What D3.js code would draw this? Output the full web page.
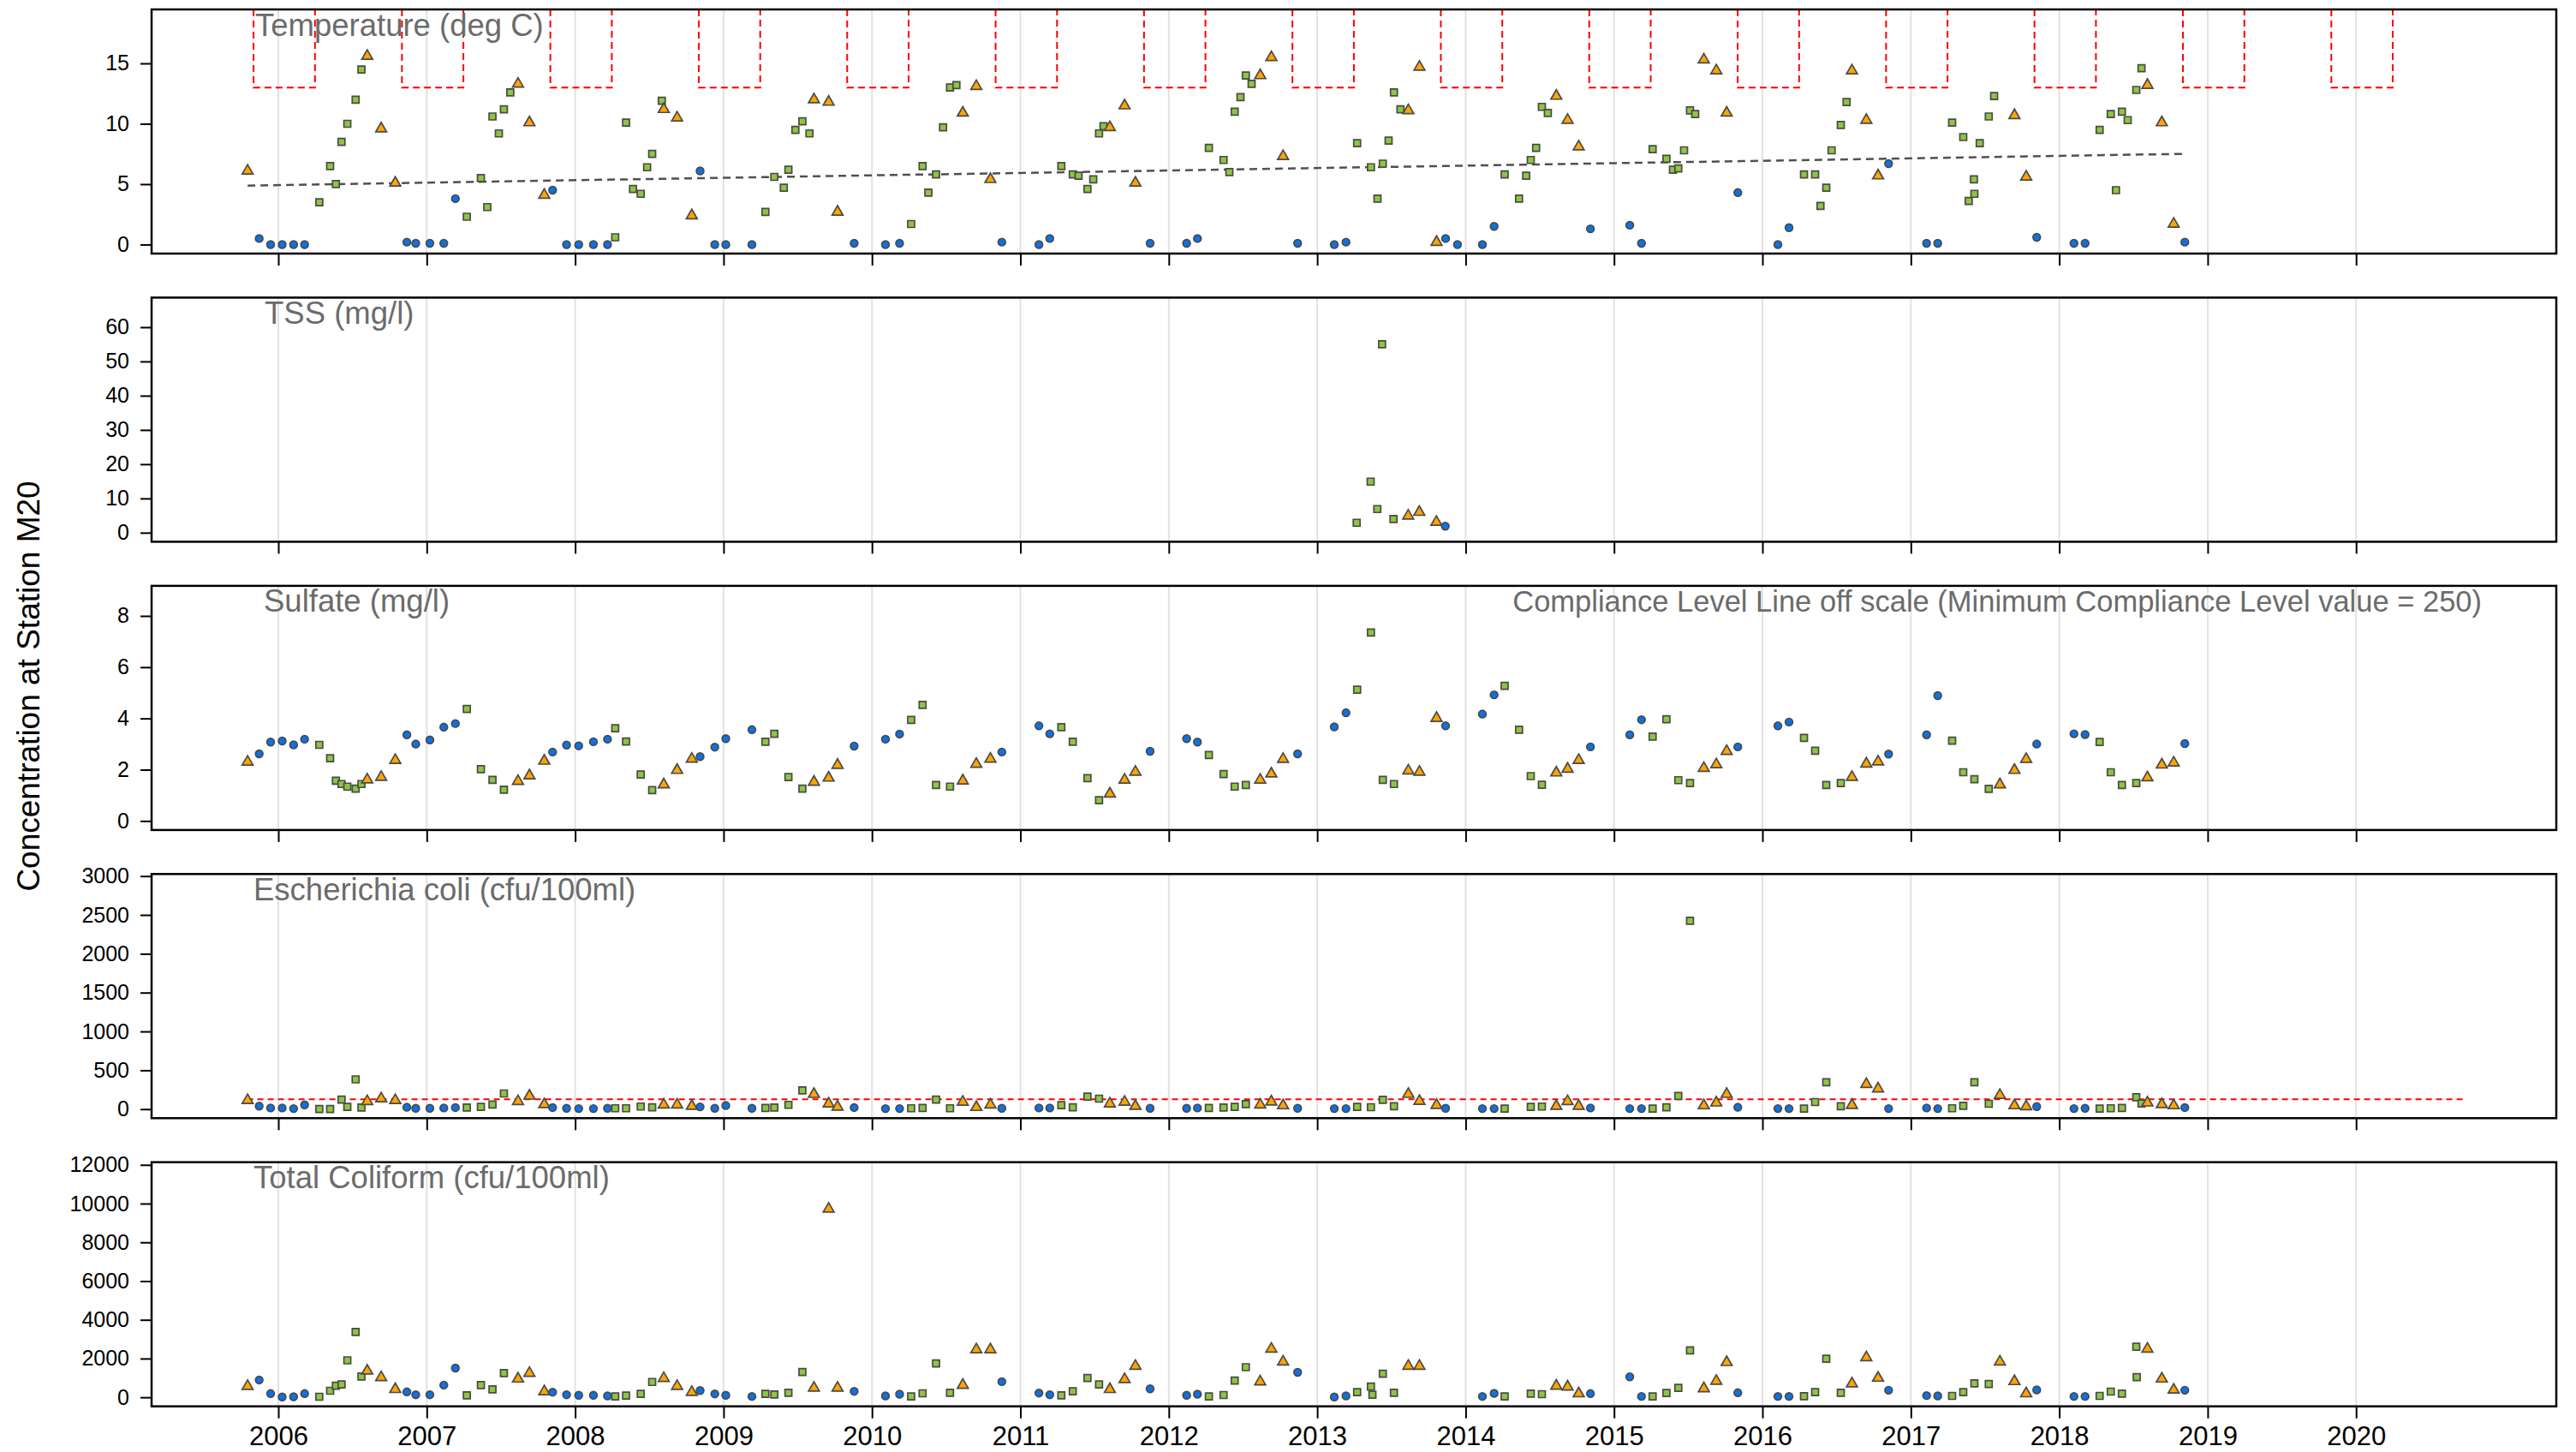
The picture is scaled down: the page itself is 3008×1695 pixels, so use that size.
<!DOCTYPE html>
<html><head><meta charset="utf-8">
<script src="https://cdn.jsdelivr.net/npm/d3@7"></script>
<style>
body{margin:0;background:#fff;}
svg{display:block;}
text{font-family:"Liberation Sans",Arial,Helvetica,sans-serif;}
</style>
</head><body>
<svg id="chart" width="3008" height="1695"></svg>
<script>
// ---------------- DATA ----------------
// season codes: W = Nov-Mar (circle), S = Apr-Jul (square), F = Aug-Oct (triangle)
const years = [2006,2007,2008,2009,2010,2011,2012,2013,2014,2015,2016,2017,2018,2019,2020];
const yearLabels = ["2006","2007","2008","2009","2010","2011","2012","2013","2014","2015","2016","2017","2018","2019","2020"];

const tempTicks = [0,5,10,15];
const tssTicks = [0,10,20,30,40,50,60];
const sulfateTicks = [0,2,4,6,8];
const ecoliTicks = [0,500,1000,1500,2000,2500,3000];
const tcTicks = [0,2000,4000,6000,8000,10000,12000];

const tempData = [
[2005.793,6.1,"F"],[2005.871,0.5,"W"],[2005.948,0,"W"],[2006.026,0,"W"],[2006.103,0,"W"],[2006.177,0,"W"],
[2006.276,3.5,"S"],[2006.349,6.5,"S"],[2006.388,5.0,"S"],[2006.426,8.5,"S"],[2006.465,10.0,"S"],[2006.521,12.0,"S"],[2006.560,14.5,"S"],
[2006.599,15.6,"F"],[2006.693,9.6,"F"],[2006.788,5.1,"F"],
[2006.866,0.2,"W"],[2006.926,0.1,"W"],[2007.021,0.1,"W"],[2007.115,0.1,"W"],[2007.193,3.8,"W"],
[2007.270,2.3,"S"],[2007.365,5.5,"S"],[2007.408,3.1,"S"],[2007.443,10.6,"S"],[2007.486,9.2,"S"],[2007.520,11.2,"S"],[2007.563,12.6,"S"],
[2007.615,13.3,"F"],[2007.692,10.1,"F"],[2007.792,4.1,"F"],
[2007.848,4.5,"W"],[2007.942,0,"W"],[2008.024,0,"W"],[2008.123,0,"W"],[2008.218,0,"W"],
[2008.270,0.6,"S"],[2008.343,10.1,"S"],[2008.390,4.6,"S"],[2008.442,4.2,"S"],[2008.485,6.4,"S"],[2008.519,7.5,"S"],[2008.584,11.9,"S"],
[2008.597,11.2,"F"],[2008.687,10.5,"F"],[2008.786,2.4,"F"],
[2008.842,6.1,"W"],[2008.941,0,"W"],[2009.015,0,"W"],[2009.191,0,"W"],
[2009.282,2.7,"S"],[2009.342,5.6,"S"],[2009.406,4.7,"S"],[2009.437,6.2,"S"],[2009.484,9.5,"S"],[2009.531,10.2,"S"],[2009.579,9.2,"S"],
[2009.609,12.0,"F"],[2009.708,11.8,"F"],[2009.768,2.7,"F"],
[2009.880,0.1,"W"],[2010.091,0,"W"],[2010.186,0.1,"W"],
[2010.264,1.7,"S"],[2010.341,6.5,"S"],[2010.380,4.3,"S"],[2010.432,5.8,"S"],[2010.479,9.7,"S"],[2010.526,13.0,"S"],[2010.569,13.2,"S"],
[2010.612,10.9,"F"],[2010.703,13.1,"F"],[2010.798,5.4,"F"],
[2010.875,0.2,"W"],[2011.125,0,"W"],[2011.198,0.5,"W"],
[2011.276,6.5,"S"],[2011.353,5.8,"S"],[2011.392,5.7,"S"],[2011.452,4.6,"S"],[2011.491,5.4,"S"],[2011.530,9.2,"S"],[2011.560,9.8,"S"],
[2011.603,9.7,"F"],[2011.702,11.5,"F"],[2011.775,5.1,"F"],
[2011.874,0.1,"W"],[2012.120,0.1,"W"],[2012.193,0.5,"W"],
[2012.270,8.0,"S"],[2012.369,7.0,"S"],[2012.408,6.0,"S"],[2012.444,11.0,"S"],[2012.483,12.2,"S"],[2012.519,14.0,"S"],[2012.558,13.3,"S"],
[2012.616,14.0,"F"],[2012.691,15.5,"F"],[2012.770,7.3,"F"],
[2012.868,0.1,"W"],[2013.115,0,"W"],[2013.194,0.2,"W"],
[2013.269,8.4,"S"],[2013.362,6.4,"S"],[2013.406,3.8,"S"],[2013.442,6.7,"S"],[2013.481,8.6,"S"],[2013.517,12.6,"S"],[2013.561,11.2,"S"],
[2013.614,11.1,"F"],[2013.689,14.7,"F"],[2013.804,0.2,"F"],
[2013.865,0.5,"W"],[2013.945,0,"W"],[2014.113,0,"W"],[2014.192,1.5,"W"],
[2014.263,5.8,"S"],[2014.360,3.8,"S"],[2014.408,5.7,"S"],[2014.439,7.0,"S"],[2014.475,8.0,"S"],[2014.514,11.4,"S"],[2014.554,10.9,"S"],
[2014.611,12.3,"F"],[2014.687,10.3,"F"],[2014.762,8.1,"F"],
[2014.841,1.3,"W"],[2015.106,1.6,"W"],[2015.185,0.1,"W"],
[2015.260,7.9,"S"],[2015.353,7.1,"S"],[2015.397,6.2,"S"],[2015.433,6.3,"S"],[2015.472,7.8,"S"],[2015.512,11.1,"S"],[2015.547,10.8,"S"],
[2015.605,15.3,"F"],[2015.689,14.4,"F"],[2015.759,10.9,"F"],
[2015.834,4.3,"W"],[2016.104,0,"W"],[2016.179,1.4,"W"],
[2016.280,5.8,"S"],[2016.355,5.8,"S"],[2016.391,3.2,"S"],[2016.430,4.7,"S"],[2016.466,7.8,"S"],[2016.528,9.9,"S"],[2016.567,11.8,"S"],
[2016.603,14.4,"F"],[2016.700,10.3,"F"],[2016.779,5.7,"F"],
[2016.850,6.7,"W"],[2017.106,0.1,"W"],[2017.181,0.1,"W"],
[2017.278,10.1,"S"],[2017.353,8.9,"S"],[2017.390,3.6,"S"],[2017.428,4.2,"S"],[2017.425,5.4,"S"],[2017.464,8.4,"S"],[2017.525,10.6,"S"],[2017.561,12.3,"S"],
[2017.698,10.7,"F"],[2017.777,5.6,"F"],
[2017.848,0.6,"W"],[2018.099,0.1,"W"],[2018.174,0.1,"W"],
[2018.272,9.5,"S"],[2018.347,10.8,"S"],[2018.382,4.5,"S"],[2018.422,11.0,"S"],[2018.461,10.3,"S"],[2018.519,12.8,"S"],[2018.554,14.6,"S"],
[2018.594,13.2,"F"],[2018.691,10.1,"F"],[2018.771,1.7,"F"],
[2018.846,0.2,"W"]
];
// temperature trend (start, end)
const tempTrend = [[2005.793,4.88],[2018.846,7.51]];
// temperature compliance level and its winter windows (Nov 1 - Mar 31)
const tempLimit = 13;
const tempLimitWindows = [
[2005.833,2006.247],[2006.833,2007.247],[2007.833,2008.247],[2008.833,2009.247],[2009.833,2010.247],
[2010.833,2011.247],[2011.833,2012.247],[2012.833,2013.247],[2013.833,2014.247],[2014.833,2015.247],
[2015.833,2016.247],[2016.833,2017.247],[2017.833,2018.247],[2018.833,2019.247],[2019.833,2020.247]
];

const tssData = [
[2013.266,2.9,"S"],[2013.360,14.9,"S"],[2013.405,6.9,"S"],[2013.437,55.0,"S"],[2013.514,4.0,"S"],
[2013.613,4.9,"F"],[2013.688,6.0,"F"],[2013.803,3.1,"F"],[2013.863,1.9,"W"]
];

const sulfateData = [
[2005.793,2.3,"F"],[2005.871,2.62,"W"],[2005.948,3.08,"W"],[2006.026,3.12,"W"],[2006.103,2.97,"W"],[2006.177,3.19,"W"],
[2006.276,2.97,"S"],[2006.349,2.45,"S"],[2006.388,1.57,"S"],[2006.426,1.44,"S"],[2006.465,1.34,"S"],[2006.521,1.26,"S"],[2006.560,1.44,"S"],
[2006.599,1.61,"F"],[2006.693,1.71,"F"],[2006.788,2.37,"F"],
[2006.866,3.36,"W"],[2006.926,3.0,"W"],[2007.021,3.16,"W"],[2007.115,3.66,"W"],[2007.193,3.80,"W"],
[2007.270,4.37,"S"],[2007.365,2.02,"S"],[2007.443,1.60,"S"],[2007.520,1.22,"S"],
[2007.615,1.55,"F"],[2007.692,1.77,"F"],[2007.792,2.34,"F"],
[2007.848,2.69,"W"],[2007.942,2.96,"W"],[2008.024,2.93,"W"],[2008.123,3.09,"W"],[2008.218,3.19,"W"],
[2008.270,3.62,"S"],[2008.343,3.10,"S"],[2008.442,1.81,"S"],[2008.519,1.20,"S"],
[2008.597,1.42,"F"],[2008.687,1.98,"F"],[2008.786,2.42,"F"],
[2008.842,2.51,"W"],[2008.941,2.88,"W"],[2009.015,3.21,"W"],[2009.191,3.56,"W"],
[2009.282,3.09,"S"],[2009.342,3.40,"S"],[2009.437,1.71,"S"],[2009.531,1.26,"S"],
[2009.609,1.52,"F"],[2009.708,1.68,"F"],[2009.768,2.18,"F"],
[2009.880,2.92,"W"],[2010.091,3.19,"W"],[2010.186,3.39,"W"],
[2010.264,3.94,"S"],[2010.341,4.53,"S"],[2010.432,1.40,"S"],[2010.526,1.34,"S"],
[2010.612,1.57,"F"],[2010.703,2.22,"F"],[2010.798,2.42,"F"],
[2010.875,2.69,"W"],[2011.125,3.71,"W"],[2011.198,3.40,"W"],
[2011.276,3.66,"S"],[2011.353,3.09,"S"],[2011.452,1.67,"S"],[2011.530,0.81,"S"],
[2011.603,1.06,"F"],[2011.702,1.60,"F"],[2011.775,1.91,"F"],
[2011.874,2.72,"W"],[2012.120,3.21,"W"],[2012.193,3.08,"W"],
[2012.270,2.57,"S"],[2012.369,1.83,"S"],[2012.444,1.34,"S"],[2012.519,1.40,"S"],
[2012.616,1.60,"F"],[2012.691,1.84,"F"],[2012.770,2.41,"F"],
[2012.868,2.62,"W"],[2013.115,3.67,"W"],[2013.194,4.22,"W"],
[2013.269,5.12,"S"],[2013.362,7.35,"S"],[2013.442,1.60,"S"],[2013.517,1.44,"S"],
[2013.614,1.96,"F"],[2013.689,1.91,"F"],[2013.804,4.01,"F"],
[2013.865,3.71,"W"],[2014.113,4.17,"W"],[2014.192,4.92,"W"],
[2014.263,5.27,"S"],[2014.360,3.56,"S"],[2014.439,1.75,"S"],[2014.514,1.41,"S"],
[2014.611,1.88,"F"],[2014.687,2.03,"F"],[2014.762,2.37,"F"],
[2014.841,2.89,"W"],[2015.106,3.36,"W"],[2015.185,3.95,"W"],
[2015.260,3.29,"S"],[2015.353,3.97,"S"],[2015.433,1.59,"S"],[2015.512,1.48,"S"],
[2015.605,2.06,"F"],[2015.689,2.20,"F"],[2015.759,2.72,"F"],
[2015.834,2.89,"W"],[2016.104,3.71,"W"],[2016.179,3.86,"W"],
[2016.280,3.24,"S"],[2016.355,2.74,"S"],[2016.430,1.40,"S"],[2016.528,1.48,"S"],
[2016.603,1.71,"F"],[2016.700,2.23,"F"],[2016.779,2.31,"F"],
[2016.850,2.61,"W"],[2017.106,3.36,"W"],[2017.181,4.89,"W"],
[2017.278,3.13,"S"],[2017.353,1.90,"S"],[2017.428,1.63,"S"],[2017.525,1.25,"S"],
[2017.600,1.42,"F"],[2017.698,1.98,"F"],[2017.777,2.41,"F"],
[2017.848,3.0,"W"],[2018.099,3.40,"W"],[2018.174,3.37,"W"],
[2018.272,3.08,"S"],[2018.347,1.90,"S"],[2018.422,1.40,"S"],[2018.519,1.48,"S"],
[2018.594,1.69,"F"],[2018.691,2.19,"F"],[2018.771,2.27,"F"],
[2018.846,3.02,"W"]
];

const ecoliData = [
[2005.793,113,"F"],[2005.871,38,"W"],[2005.948,15,"W"],[2006.026,15,"W"],[2006.103,7,"W"],[2006.177,55,"W"],
[2006.276,2,"S"],[2006.349,2,"S"],[2006.426,122,"S"],[2006.465,29,"S"],[2006.521,383,"S"],[2006.560,20,"S"],
[2006.599,100,"F"],[2006.693,135,"F"],[2006.788,113,"F"],
[2006.866,24,"W"],[2006.926,11,"W"],[2007.021,11,"W"],[2007.115,15,"W"],[2007.193,20,"W"],
[2007.270,20,"S"],[2007.365,29,"S"],[2007.443,60,"S"],[2007.520,201,"S"],
[2007.615,100,"F"],[2007.692,170,"F"],[2007.792,60,"F"],
[2007.848,20,"W"],[2007.942,11,"W"],[2008.024,7,"W"],[2008.123,7,"W"],[2008.218,11,"W"],
[2008.270,11,"S"],[2008.343,11,"S"],[2008.442,33,"S"],[2008.519,24,"S"],
[2008.597,55,"F"],[2008.687,55,"F"],[2008.786,38,"F"],
[2008.842,29,"W"],[2008.941,11,"W"],[2009.015,46,"W"],[2009.191,11,"W"],
[2009.282,15,"S"],[2009.342,20,"S"],[2009.437,55,"S"],[2009.531,241,"S"],
[2009.609,192,"F"],[2009.708,69,"F"],[2009.768,29,"F"],
[2009.880,20,"W"],[2010.091,7,"W"],[2010.186,7,"W"],
[2010.264,11,"S"],[2010.341,15,"S"],[2010.432,122,"S"],[2010.526,11,"S"],
[2010.612,91,"F"],[2010.703,24,"F"],[2010.798,55,"F"],
[2010.875,11,"W"],[2011.125,15,"W"],[2011.198,15,"W"],
[2011.276,51,"S"],[2011.353,24,"S"],[2011.452,161,"S"],[2011.530,135,"S"],
[2011.603,69,"F"],[2011.702,91,"F"],[2011.775,38,"F"],
[2011.874,11,"W"],[2012.120,11,"W"],[2012.193,15,"W"],
[2012.270,15,"S"],[2012.369,20,"S"],[2012.444,29,"S"],[2012.519,64,"S"],
[2012.616,55,"F"],[2012.691,95,"F"],[2012.770,46,"F"],
[2012.868,11,"W"],[2013.115,7,"W"],[2013.194,7,"W"],
[2013.269,29,"S"],[2013.362,25,"S"],[2013.442,120,"S"],[2013.517,37,"S"],
[2013.614,192,"F"],[2013.689,102,"F"],[2013.804,51,"F"],
[2013.865,11,"W"],[2014.113,7,"W"],[2014.192,7,"W"],
[2014.263,7,"S"],[2014.439,29,"S"],[2014.514,33,"S"],
[2014.611,38,"F"],[2014.687,100,"F"],[2014.762,38,"F"],
[2014.841,15,"W"],[2015.106,7,"W"],[2015.185,7,"W"],
[2015.260,7,"S"],[2015.353,24,"S"],[2015.433,170,"S"],[2015.512,2425,"S"],
[2015.605,46,"F"],[2015.689,82,"F"],[2015.759,192,"F"],
[2015.834,24,"W"],[2016.104,7,"W"],[2016.179,7,"W"],
[2016.280,7,"S"],[2016.355,91,"S"],[2016.430,347,"S"],[2016.528,38,"S"],
[2016.603,51,"F"],[2016.700,320,"F"],[2016.779,263,"F"],
[2016.850,7,"W"],[2017.106,15,"W"],[2017.181,7,"W"],
[2017.278,11,"S"],[2017.353,42,"S"],[2017.428,347,"S"],[2017.525,69,"S"],
[2017.600,179,"F"],[2017.698,46,"F"],[2017.777,33,"F"],
[2017.848,33,"W"],[2018.099,7,"W"],[2018.174,11,"W"],
[2018.272,7,"S"],[2018.347,11,"S"],[2018.422,15,"S"],[2018.519,152,"S"],[2018.554,72,"S"],
[2018.594,82,"F"],[2018.691,60,"F"],[2018.771,46,"F"],
[2018.846,20,"W"]
];
const ecoliLimit = 126;
const ecoliLimitSpan = [2005.79, 2020.73];

const tcData = [
[2005.793,570,"F"],[2005.871,895,"W"],[2005.948,191,"W"],[2006.026,15,"W"],[2006.103,29,"W"],[2006.177,191,"W"],
[2006.276,29,"S"],[2006.349,337,"S"],[2006.388,601,"S"],[2006.426,660,"S"],[2006.465,1907,"S"],[2006.521,3374,"S"],[2006.560,1071,"S"],
[2006.599,1364,"F"],[2006.693,1027,"F"],[2006.788,411,"F"],
[2006.866,279,"W"],[2006.926,132,"W"],[2007.021,132,"W"],[2007.115,631,"W"],[2007.193,1511,"W"],
[2007.270,103,"S"],[2007.365,631,"S"],[2007.443,411,"S"],[2007.520,1247,"S"],
[2007.615,953,"F"],[2007.692,1247,"F"],[2007.792,293,"F"],
[2007.848,264,"W"],[2007.942,132,"W"],[2008.024,103,"W"],[2008.123,103,"W"],[2008.218,73,"W"],
[2008.270,44,"S"],[2008.343,88,"S"],[2008.442,176,"S"],[2008.519,792,"S"],
[2008.597,983,"F"],[2008.687,572,"F"],[2008.786,264,"F"],
[2008.842,352,"W"],[2008.941,176,"W"],[2009.015,103,"W"],[2009.191,44,"W"],
[2009.282,176,"S"],[2009.342,147,"S"],[2009.437,235,"S"],[2009.531,1305,"S"],
[2009.609,484,"F"],[2009.708,9725,"F"],[2009.768,484,"F"],
[2009.880,308,"W"],[2010.091,73,"W"],[2010.186,161,"W"],
[2010.264,44,"S"],[2010.341,205,"S"],[2010.432,1745,"S"],[2010.526,235,"S"],
[2010.612,631,"F"],[2010.703,2464,"F"],[2010.798,2464,"F"],
[2010.875,807,"W"],[2011.125,220,"W"],[2011.198,132,"W"],
[2011.276,103,"S"],[2011.353,308,"S"],[2011.452,997,"S"],[2011.530,660,"S"],
[2011.603,411,"F"],[2011.702,924,"F"],[2011.775,1613,"F"],
[2011.874,440,"W"],[2012.120,103,"W"],[2012.193,161,"W"],
[2012.270,44,"S"],[2012.369,117,"S"],[2012.444,865,"S"],[2012.519,1555,"S"],
[2012.616,807,"F"],[2012.691,2494,"F"],[2012.770,1834,"F"],
[2012.868,1291,"W"],[2013.115,15,"W"],[2013.194,73,"W"],
[2013.269,264,"S"],[2013.362,557,"S"],[2013.372,132,"S"],[2013.442,1217,"S"],[2013.517,235,"S"],
[2013.614,1613,"F"],[2013.689,1613,"F"],
[2014.113,44,"W"],[2014.192,205,"W"],
[2014.263,44,"S"],[2014.439,191,"S"],[2014.514,161,"S"],
[2014.611,587,"F"],[2014.687,543,"F"],[2014.762,191,"F"],
[2014.841,191,"W"],[2015.106,1056,"W"],[2015.185,44,"W"],
[2015.260,44,"S"],[2015.353,220,"S"],[2015.433,484,"S"],[2015.512,2420,"S"],
[2015.605,455,"F"],[2015.689,836,"F"],[2015.759,1804,"F"],
[2015.834,235,"W"],[2016.104,44,"W"],[2016.179,44,"W"],
[2016.280,59,"S"],[2016.355,264,"S"],[2016.430,1995,"S"],[2016.528,235,"S"],
[2016.603,704,"F"],[2016.700,2054,"F"],[2016.779,997,"F"],
[2016.850,367,"W"],[2017.106,88,"W"],[2017.181,73,"W"],
[2017.278,73,"S"],[2017.353,264,"S"],[2017.428,719,"S"],[2017.525,689,"S"],
[2017.600,1834,"F"],[2017.698,821,"F"],[2017.777,191,"F"],
[2017.848,381,"W"],[2018.099,44,"W"],[2018.174,44,"W"],
[2018.272,73,"S"],[2018.347,293,"S"],[2018.422,191,"S"],[2018.519,2611,"S"],[2018.522,1041,"S"],
[2018.594,2494,"F"],[2018.691,953,"F"],[2018.771,381,"F"],
[2018.846,367,"W"]
];

const panelTitles = ["Temperature (deg C)","TSS (mg/l)","Sulfate (mg/l)","Escherichia coli (cfu/100ml)","Total Coliform (cfu/100ml)"];
const sulfateNote = "Compliance Level Line off scale (Minimum Compliance Level value = 250)";
const yAxisTitle = "Concentration at Station M20";

// ---------------- LAYOUT ----------------
const svg = d3.select("#chart");
const L = 177, R = 2985, PH = 285;
const panelTops = [11, 347.4, 683.9, 1020.3, 1356.7];
const titleX = [298, 309, 308, 296, 296];
const FONT = '"Liberation Sans",Arial,Helvetica,sans-serif';

const x = d3.scaleLinear().domain([2005.146, 2021.349]).range([L, R]);

const seasonFill = {W:"#0b72e8", S:"#8dc63f", F:"#ffa500"};
const seasonSym = {W:d3.symbolCircle, S:d3.symbolSquare, F:d3.symbolTriangle};
const seasonSize = {W:60, S:64, F:70};

const panels = [
  {data:tempData, ticks:tempTicks},
  {data:tssData, ticks:tssTicks},
  {data:sulfateData, ticks:sulfateTicks},
  {data:ecoliData, ticks:ecoliTicks},
  {data:tcData, ticks:tcTicks}
];

panels.forEach((p, i) => {
  const top = panelTops[i], bot = top + PH;
  const rng = 1.2 * d3.max(p.data, d => d[1]);
  const y = d3.scaleLinear().domain([-0.04*rng, 1.04*rng]).range([bot, top]);
  const g = svg.append("g");

  // vertical year gridlines
  g.selectAll("line.grid").data(years).enter().append("line")
    .attr("x1", d => x(d)).attr("x2", d => x(d))
    .attr("y1", top).attr("y2", bot)
    .attr("stroke", "#e2e2e2").attr("stroke-width", 2);

  // y axis
  const ya = g.append("g").attr("transform", `translate(${L},0)`)
    .call(d3.axisLeft(y).tickValues(p.ticks).tickSize(13).tickPadding(13).tickFormat(d3.format("d")));
  ya.select(".domain").remove();
  ya.selectAll(".tick line").attr("stroke", "#000").attr("stroke-width", 2);
  ya.selectAll(".tick text").attr("font-size", 25).attr("font-family", FONT).attr("fill", "#000");

  // x axis
  const xa = g.append("g").attr("transform", `translate(0,${bot})`)
    .call(d3.axisBottom(x).tickValues(years).tickSize(14).tickPadding(9)
      .tickFormat((d, k) => i === 4 ? yearLabels[k] : ""));
  xa.select(".domain").remove();
  xa.selectAll(".tick line").attr("stroke", "#000").attr("stroke-width", 2);
  xa.selectAll(".tick text").attr("font-size", 31).attr("font-family", FONT).attr("fill", "#000");

  // reference lines
  if (i === 0) {
    const ytop = y.domain()[1];
    tempLimitWindows.forEach(w => {
      g.append("path")
        .attr("d", d3.line()([[x(w[0]), y(ytop)], [x(w[0]), y(tempLimit)], [x(w[1]), y(tempLimit)], [x(w[1]), y(ytop)]]))
        .attr("fill", "none").attr("stroke", "#ff0000").attr("stroke-width", 2)
        .attr("stroke-dasharray", "8,5");
    });
    g.append("path")
      .attr("d", d3.line().x(d => x(d[0])).y(d => y(d[1]))(tempTrend))
      .attr("fill", "none").attr("stroke", "#505050").attr("stroke-width", 2.5)
      .attr("stroke-dasharray", "9,6");
  }
  if (i === 3) {
    g.append("line")
      .attr("x1", x(ecoliLimitSpan[0])).attr("x2", x(ecoliLimitSpan[1]))
      .attr("y1", y(ecoliLimit)).attr("y2", y(ecoliLimit))
      .attr("stroke", "#ff0000").attr("stroke-width", 2).attr("stroke-dasharray", "7,5");
  }

  // title
  g.append("text").attr("x", titleX[i]).attr("y", top + 30.5)
    .attr("font-size", 36.5).attr("font-family", FONT).attr("fill", "#6b6b6b")
    .text(panelTitles[i]);
  if (i === 2) {
    g.append("text").attr("x", 2898).attr("y", top + 30.5).attr("text-anchor", "end")
      .attr("font-size", 34.5).attr("font-family", FONT).attr("fill", "#6b6b6b")
      .text(sulfateNote);
  }

  // points
  g.selectAll("path.pt").data(p.data).enter().append("path")
    .attr("class", "pt")
    .attr("transform", d => `translate(${x(d[0])},${y(d[1])})`)
    .attr("d", d => d3.symbol().type(seasonSym[d[2]]).size(seasonSize[d[2]])())
    .attr("fill", d => seasonFill[d[2]])
    .attr("stroke", "#4a4a4a").attr("stroke-width", 1.7);

  // panel frame
  g.append("rect").attr("x", L).attr("y", top).attr("width", R - L).attr("height", PH)
    .attr("fill", "none").attr("stroke", "#000").attr("stroke-width", 2.5);
});

// y axis title
svg.append("text")
  .attr("transform", "translate(46,801) rotate(-90)")
  .attr("text-anchor", "middle")
  .attr("font-size", 37).attr("font-family", FONT).attr("fill", "#000")
  .text(yAxisTitle);
</script>
</body></html>
